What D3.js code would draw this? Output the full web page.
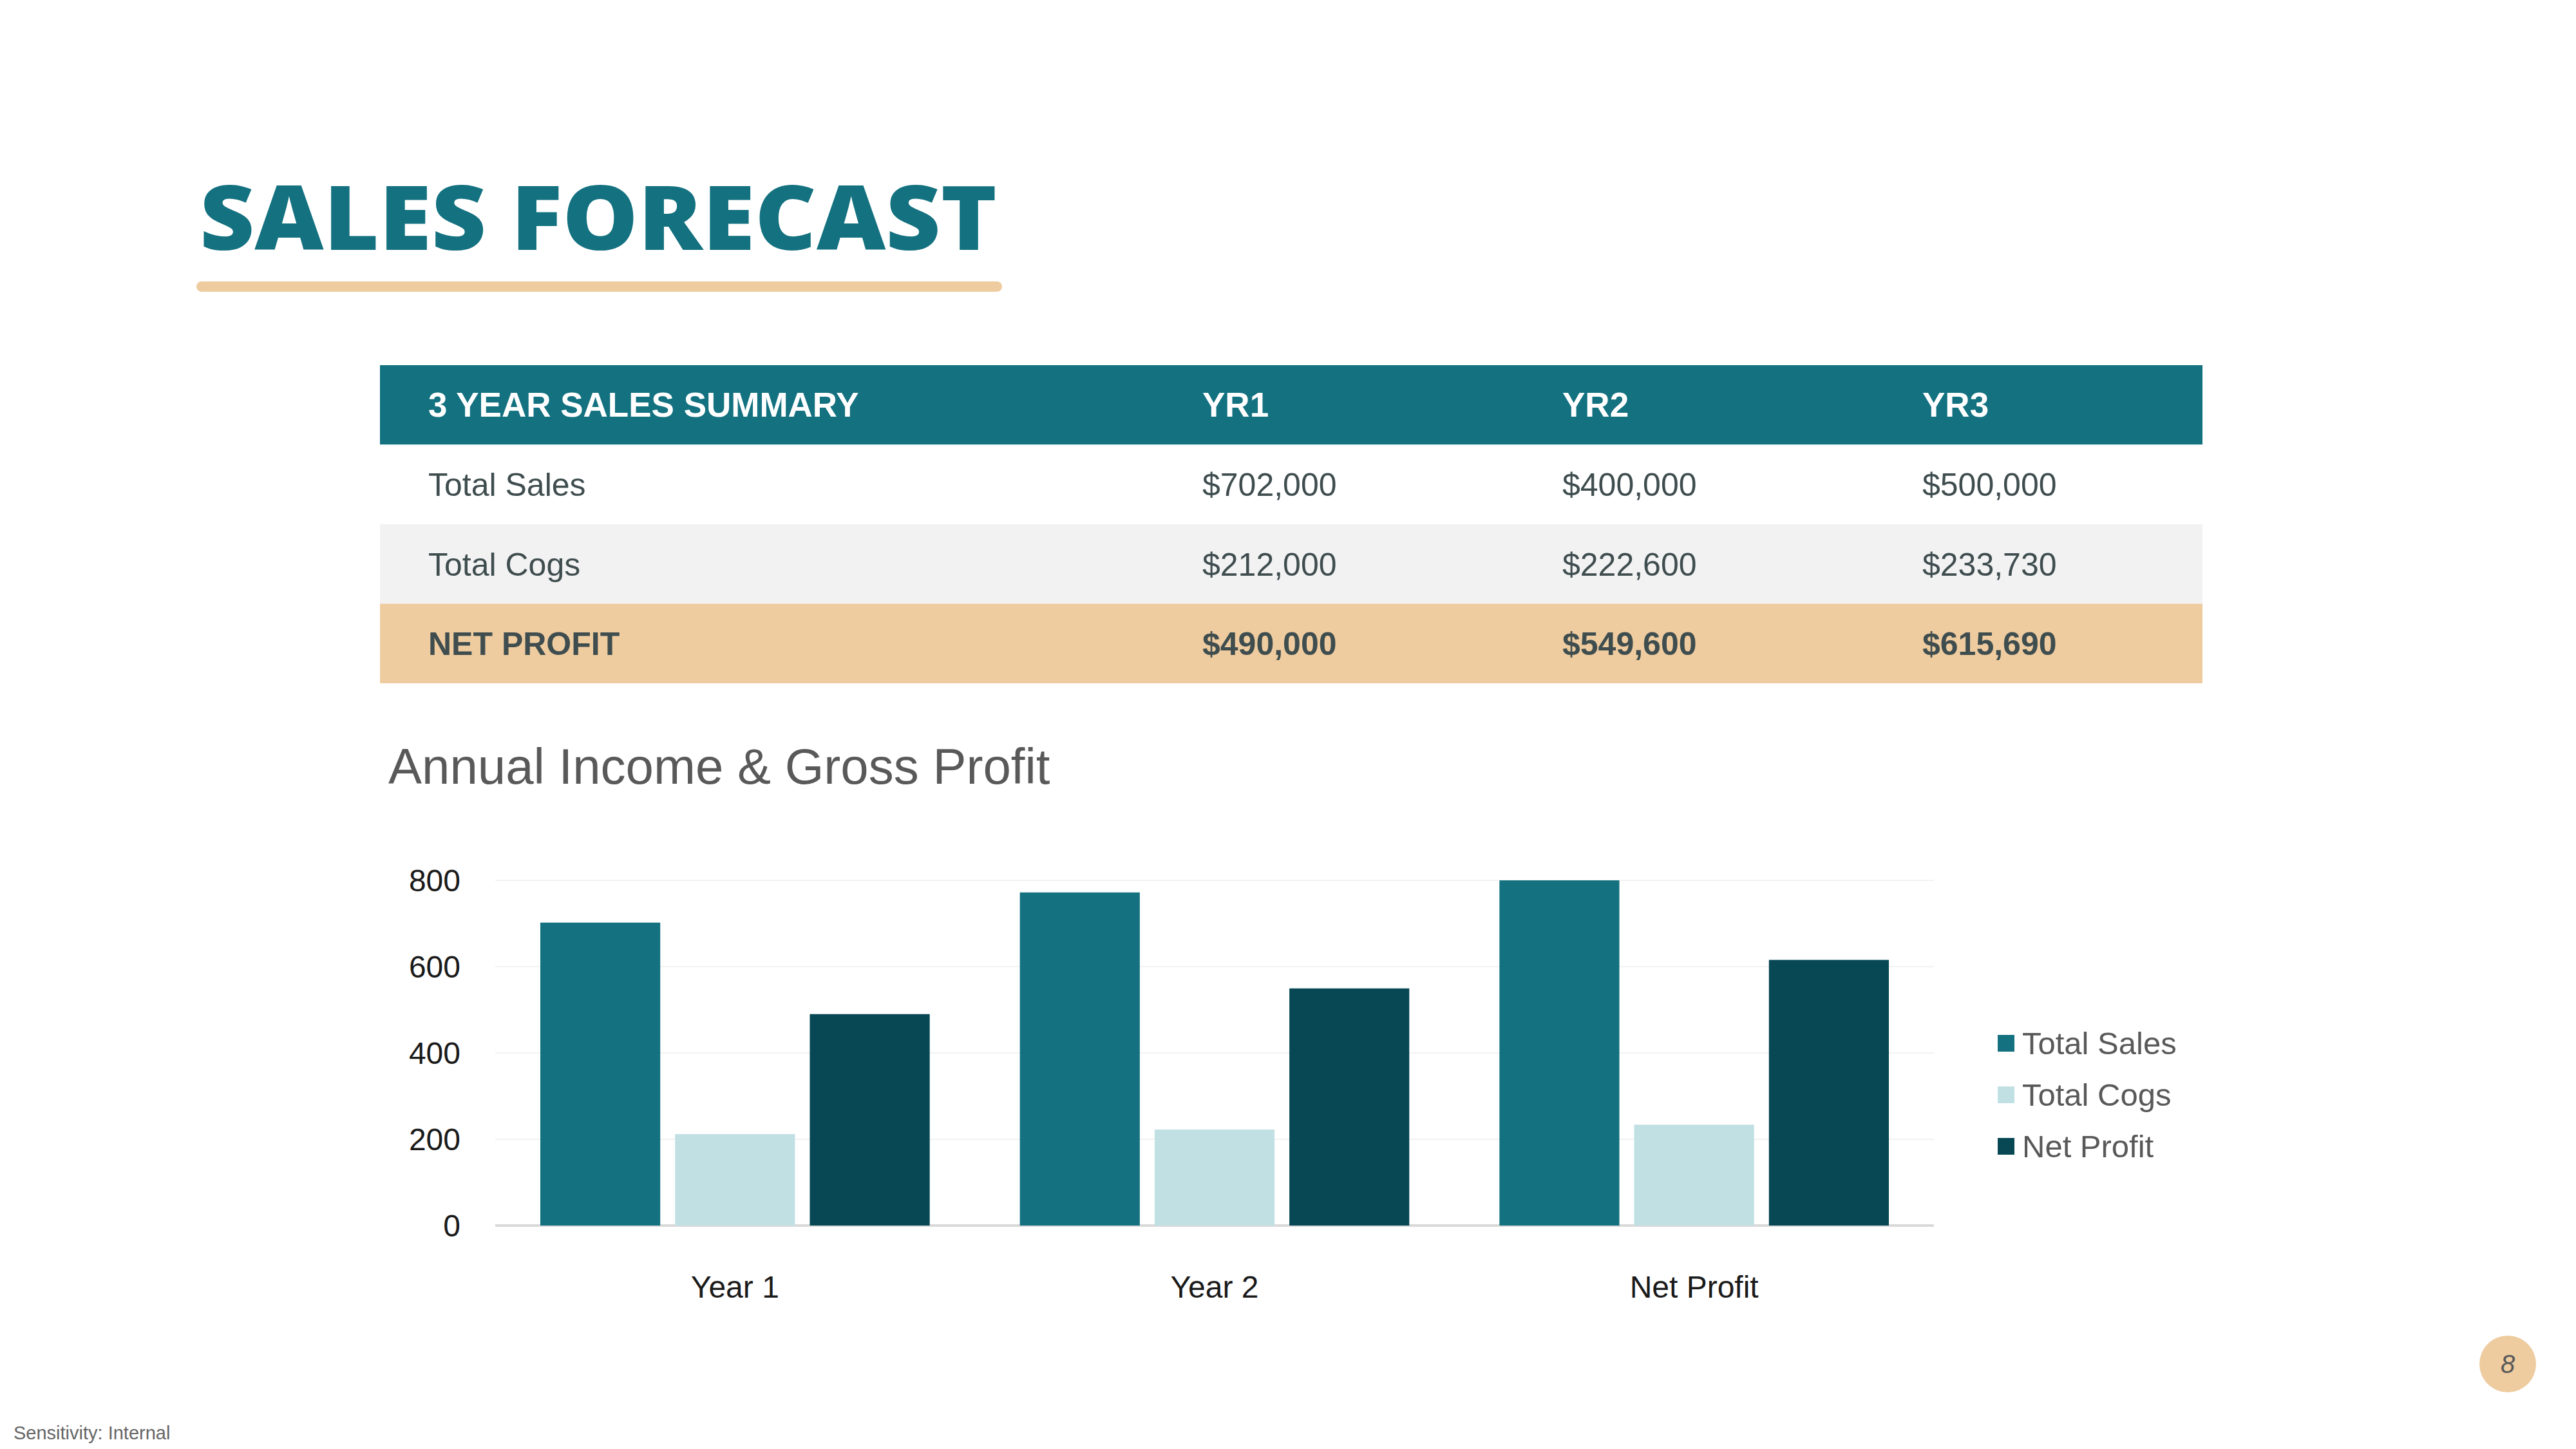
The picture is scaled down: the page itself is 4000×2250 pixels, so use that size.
<!DOCTYPE html>
<html><head><meta charset="utf-8">
<script src="https://cdn.jsdelivr.net/npm/d3@7.9.0/dist/d3.min.js"></script>
<style>body{margin:0;background:#fff}svg{display:block}</style>
</head><body>
<svg id="c" width="4000" height="2250"></svg>
<script>
// table data
const tableHeader = ['3 YEAR SALES SUMMARY', 'YR1', 'YR2', 'YR3'];
const tableRows = [
  ['Total Sales', '$702,000', '$400,000', '$500,000'],
  ['Total Cogs', '$212,000', '$222,600', '$233,730'],
  ['NET PROFIT', '$490,000', '$549,600', '$615,690']
];
// chart data
const groups = ['Year 1', 'Year 2', 'Net Profit'];
const seriesNames = ['Total Sales', 'Total Cogs', 'Net Profit'];
const totalSales = [702, 772, 800];
const totalCogs = [212, 222.6, 233.73];
const netProfit = [490, 549.6, 615.69];
const yTicks = [0, 200, 400, 600, 800];

const teal = '#137180', light = '#C1E0E4', dark = '#074854', sand = '#EECC9F';
const colors = [teal, light, dark];
const svg = d3.select('#c');
const sans = 'Liberation Sans, Arial, sans-serif';

// title
svg.append('text').attr('x', 310).attr('y', 388).text('SALES FORECAST')
  .attr('font-family', 'Open Sans, sans-serif').attr('font-weight', 800)
  .attr('font-size', 138).attr('fill', teal)
  .attr('textLength', 1238).attr('lengthAdjust', 'spacingAndGlyphs');
svg.append('rect').attr('x', 305).attr('y', 437).attr('width', 1251).attr('height', 16)
  .attr('rx', 8).attr('fill', sand);

// table
const colX = [665, 1867, 2426, 2985];
const rowH = 123.5, tTop = 567;
svg.append('rect').attr('x', 590).attr('y', tTop).attr('width', 2830).attr('height', rowH).attr('fill', teal);
tableHeader.forEach((t, i) => svg.append('text').attr('x', colX[i]).attr('y', tTop + rowH / 2 + 18)
  .text(t).attr('font-family', sans).attr('font-weight', 700).attr('font-size', 53).attr('fill', '#fff'));
const rowFill = ['#fff', '#F2F2F2', sand];
tableRows.forEach((r, j) => {
  const y0 = tTop + rowH * (j + 1);
  svg.append('rect').attr('x', 590).attr('y', y0).attr('width', 2830).attr('height', rowH).attr('fill', rowFill[j]);
  r.forEach((t, i) => svg.append('text').attr('x', colX[i]).attr('y', y0 + rowH / 2 + 18).text(t)
    .attr('font-family', sans).attr('font-weight', j === 2 ? 700 : 400).attr('font-size', 50).attr('fill', '#3F4D4F'));
});

// chart
svg.append('text').attr('x', 603).attr('y', 1217).text('Annual Income & Gross Profit')
  .attr('font-family', sans).attr('font-size', 78).attr('fill', '#595959');

const x0 = d3.scaleBand().domain(groups).range([769, 3003]);
const x1 = d3.scaleBand().domain(seriesNames).range([70, x0.bandwidth() - 70]).paddingInner(0.11);
const y = d3.scaleLinear().domain([0, 800]).range([1903, 1367]);

const g = svg.append('g');
yTicks.forEach(t => {
  g.append('line').attr('x1', 769).attr('x2', 3003).attr('y1', y(t)).attr('y2', y(t))
    .attr('stroke', t === 0 ? '#D9D9D9' : '#F2F2F2').attr('stroke-width', t === 0 ? 4 : 2);
  g.append('text').attr('x', 715).attr('y', y(t) + 17).attr('text-anchor', 'end').text(t)
    .attr('font-family', sans).attr('font-size', 48).attr('fill', '#1a1a1a');
});

const series = [totalSales, totalCogs, netProfit];
groups.forEach((grp, gi) => {
  series.forEach((vals, si) => {
    g.append('rect').attr('x', x0(grp) + x1(seriesNames[si])).attr('width', x1.bandwidth())
      .attr('y', y(vals[gi])).attr('height', y(0) - y(vals[gi])).attr('fill', colors[si]);
  });
  g.append('text').attr('x', x0(grp) + x0.bandwidth() / 2).attr('y', 2015).attr('text-anchor', 'middle')
    .text(grp).attr('font-family', sans).attr('font-size', 48).attr('fill', '#1a1a1a');
});

// legend
seriesNames.forEach((n, i) => {
  const cy = 1620 + i * 80;
  svg.append('rect').attr('x', 3102).attr('y', cy - 13).attr('width', 26).attr('height', 26).attr('fill', colors[i]);
  svg.append('text').attr('x', 3140).attr('y', cy + 17).text(n)
    .attr('font-family', sans).attr('font-size', 49).attr('fill', '#595959');
});

// page number and footer
svg.append('circle').attr('cx', 3894).attr('cy', 2118).attr('r', 44).attr('fill', sand);
svg.append('text').attr('x', 3894).attr('y', 2132).attr('text-anchor', 'middle').text('8')
  .attr('font-family', sans).attr('font-style', 'italic').attr('font-size', 40).attr('fill', '#595959');
svg.append('text').attr('x', 21).attr('y', 2255 - 20).text('Sensitivity: Internal')
  .attr('font-family', sans).attr('font-size', 29).attr('fill', '#666');
</script>
</body></html>
